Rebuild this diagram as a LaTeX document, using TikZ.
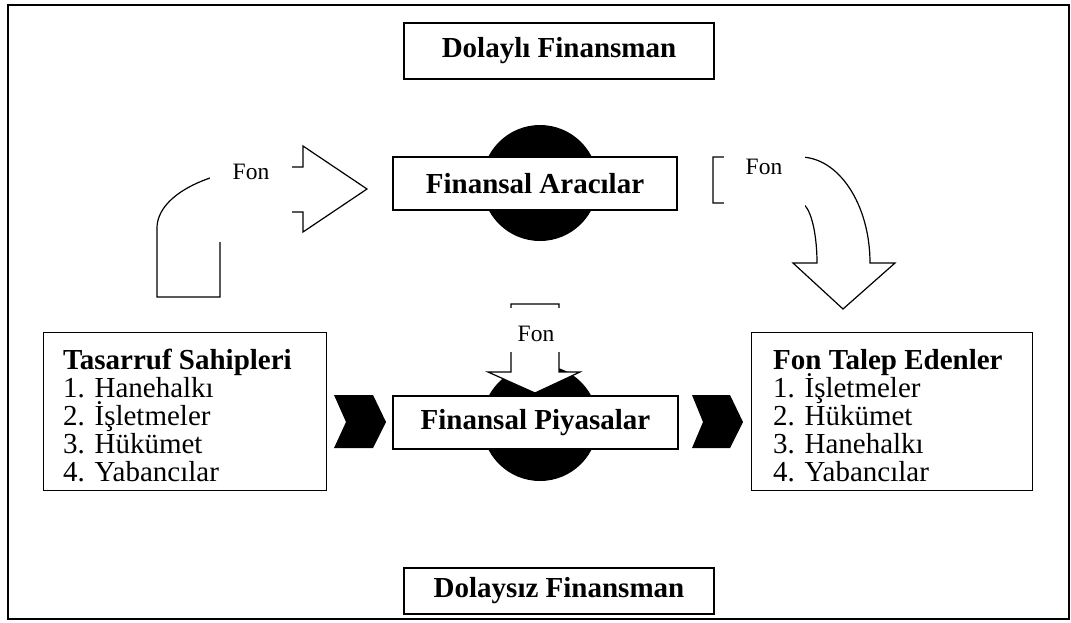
\documentclass[tikz,border=0pt]{standalone}
\usepackage{fontspec}
\setmainfont{Liberation Serif}
\begin{document}
\begin{tikzpicture}[x=1pt,y=-1pt,
  box/.style={draw, line width=1.2pt, fill=white, inner sep=0pt},
  disc/.style={circle, fill=black, inner sep=0pt, minimum size=116pt},
  bodytext/.style={font=\fontsize{29}{28}\selectfont, inner sep=0pt, anchor=base west},
  titletext/.style={font=\fontsize{29}{28}\selectfont\bfseries},
  fontext/.style={font=\fontsize{23.5}{24}\selectfont, inner sep=0pt},
  cover/.style={fill=white, inner sep=0pt},
  outline/.style={draw, line width=1.2pt, fill=white, line join=miter},
  chevron/.style={fill=black}
]
\useasboundingbox (0,0) rectangle (1071,622);
% outer frame
\draw[line width=1.6pt] (8,5) rectangle (1069,619);

% black discs behind the two middle boxes
\node[disc] (discA) at (540,183) {};
\node[disc] (discP) at (540,423) {};

% boxes
\node[box, titletext, minimum width=310pt, minimum height=56pt] (dolayli) at (559,51) {Dolaylı Finansman};
\node[box, titletext, minimum width=284pt, minimum height=53pt] (aracilar) at (535,183.5) {Finansal Aracılar};
\node[box, titletext, minimum width=285pt, minimum height=53pt] (piyasalar) at (535.5,422.5) {Finansal Piyasalar};
\node[box, titletext, minimum width=310pt, minimum height=46pt] (dolaysiz) at (559,591) {Dolaysız Finansman};

\node[box, minimum width=283pt, minimum height=158pt, anchor=north west] (tasarruf) at (43,332) {};
\node[box, minimum width=281pt, minimum height=158pt, anchor=north west] (talep) at (751,332) {};

% savers
\node[titletext, inner sep=0pt, anchor=base west] (tasT) at (63,369) {Tasarruf Sahipleri};
\node[bodytext] (tas1) at (63,397) {1. Hanehalkı};
\node[bodytext] (tas2) at (63,425) {2. İşletmeler};
\node[bodytext] (tas3) at (63,453) {3. Hükümet};
\node[bodytext] (tas4) at (63,481) {4. Yabancılar};

% fund demanders
\node[titletext, inner sep=0pt, anchor=base west] (talT) at (773,369) {Fon Talep Edenler};
\node[bodytext] (tal1) at (773,397) {1. İşletmeler};
\node[bodytext] (tal2) at (773,425) {2. Hükümet};
\node[bodytext] (tal3) at (773,453) {3. Hanehalkı};
\node[bodytext] (tal4) at (773,481) {4. Yabancılar};

% chevrons on the direct path
\fill[chevron] (334,395) -- (373,395) -- (386,422) -- (373,448) -- (334,448) -- (346,422) -- cycle;
\fill[chevron] (692,395) -- (730,395) -- (743,422) -- (730,448) -- (692,448) -- (703,422) -- cycle;

% bent arrow from savers to intermediaries
\draw[outline] (157,297) -- (157,228) .. controls (157,194.3) and (212.5,167) .. (281,167)
  -- (303,167) -- (303,146) -- (367,189) -- (303,232) -- (303,212) -- (281,212)
  .. controls (247.3,212) and (220,219.2) .. (220,228) -- (220,297) -- cycle;
% curved arrow from intermediaries to fund demanders
\draw[outline] (713,157) -- (800,157) .. controls (838.7,157) and (870,204.5) .. (870,263)
  -- (895,263) -- (843,309) -- (793,263) -- (817,263)
  .. controls (817,229.9) and (809.4,203) .. (800,203) -- (713,203) -- cycle;
% straight arrow into the markets
\draw[outline] (511,304) -- (559,304) -- (559,372) -- (580,372) -- (535,393) -- (488,372) -- (511,372) -- cycle;

% label boxes over the arrows
\node[cover, minimum width=82pt, minimum height=84pt, anchor=north west] (fonLbox) at (210,158) {};
\node[fontext, anchor=base] (fonL) at (251,179) {Fon};
\node[cover, minimum width=81pt, minimum height=62pt, anchor=north west] (fonRbox) at (724,148) {};
\node[fontext, anchor=base] (fonR) at (764,174) {Fon};
\node[cover, minimum width=64pt, minimum height=44pt, anchor=north west] (fonMbox) at (503,308) {};
\node[fontext, anchor=base] (fonM) at (536,341) {Fon};
\end{tikzpicture}
\end{document}
